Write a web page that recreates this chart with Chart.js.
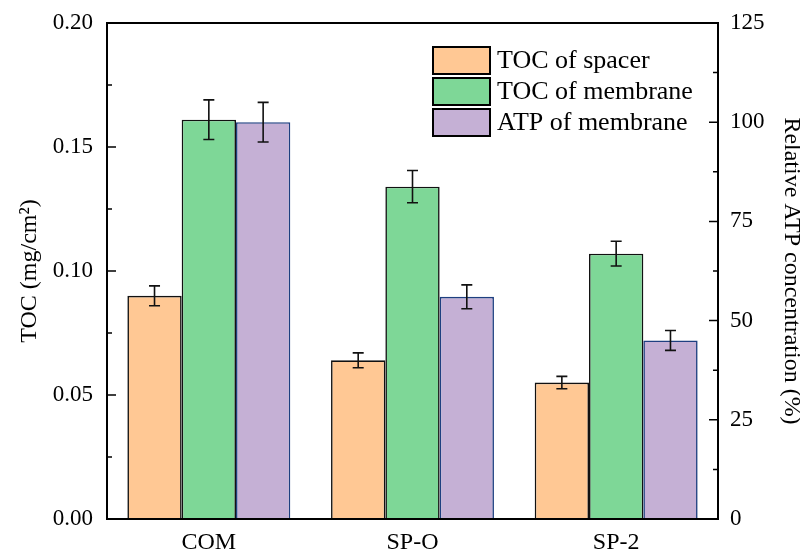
<!DOCTYPE html>
<html lang="en">
<head>
    <meta charset="UTF-8">
    <title>TOC and ATP of spacer / membrane</title>
    <script src="https://cdn.jsdelivr.net/npm/chart.js"></script>
    <style>
        body {
            margin: 0;
            background: #ffffff;
        }
    </style>
</head>
<body>
    <canvas id="tocChart" width="800" height="552"></canvas>

    <script>
        // Data
        const categories = ['COM', 'SP-O', 'SP-2'];
        const tocSpacer = [0.090, 0.064, 0.055];
        const tocSpacerErr = [0.004, 0.003, 0.0025];
        const tocMembrane = [0.161, 0.134, 0.107];
        const tocMembraneErr = [0.008, 0.0065, 0.005];
        const atpMembrane = [100, 56, 45];
        const atpMembraneErr = [5, 3, 2.5];

        const tocTicks = [0, 0.05, 0.10, 0.15, 0.20];
        const atpTicks = [0, 25, 50, 75, 100, 125];

        const serif = "'Liberation Serif', 'Times New Roman', serif";

        // Error bars on top of each bar
        const errorBars = {
            id: 'errorBars',
            afterDatasetsDraw(chart) {
                const ctx = chart.ctx;
                ctx.save();
                ctx.strokeStyle = '#111';
                ctx.lineWidth = 1.6;
                chart.data.datasets.forEach((ds, i) => {
                    const meta = chart.getDatasetMeta(i);
                    const yScale = chart.scales[meta.yAxisID];
                    meta.data.forEach((bar, j) => {
                        const v = ds.data[j];
                        const e = ds.errors[j];
                        const yTop = yScale.getPixelForValue(v + e);
                        const yBot = yScale.getPixelForValue(v - e);
                        const x = bar.x;
                        ctx.beginPath();
                        ctx.moveTo(x, yTop); ctx.lineTo(x, yBot);
                        ctx.moveTo(x - 5.5, yTop); ctx.lineTo(x + 5.5, yTop);
                        ctx.moveTo(x - 5.5, yBot); ctx.lineTo(x + 5.5, yBot);
                        ctx.stroke();
                    });
                });
                ctx.restore();
            }
        };

        // Frame, inward ticks and the legend box
        const frameAndLegend = {
            id: 'frameAndLegend',
            afterDraw(chart) {
                const ctx = chart.ctx;
                const a = chart.chartArea;
                const yL = chart.scales.y;
                const yR = chart.scales.y1;
                ctx.save();
                ctx.strokeStyle = '#000';
                ctx.lineWidth = 2;
                ctx.strokeRect(a.left, a.top, a.right - a.left, a.bottom - a.top);

                ctx.lineWidth = 1.5;
                ctx.beginPath();
                tocTicks.forEach((t, k) => {
                    const py = yL.getPixelForValue(t);
                    ctx.moveTo(a.left, py); ctx.lineTo(a.left + 9, py);
                    if (k < tocTicks.length - 1) {
                        const my = yL.getPixelForValue((t + tocTicks[k + 1]) / 2);
                        ctx.moveTo(a.left, my); ctx.lineTo(a.left + 5, my);
                    }
                });
                atpTicks.forEach((t, k) => {
                    const py = yR.getPixelForValue(t);
                    ctx.moveTo(a.right, py); ctx.lineTo(a.right - 9, py);
                    if (k < atpTicks.length - 1) {
                        const my = yR.getPixelForValue((t + atpTicks[k + 1]) / 2);
                        ctx.moveTo(a.right, my); ctx.lineTo(a.right - 5, my);
                    }
                });
                ctx.stroke();

                // legend
                const bx = 433, by = 47, bw = 57, bh = 27, gap = 31;
                ctx.font = '26px ' + serif;
                ctx.textBaseline = 'middle';
                chart.data.datasets.forEach((ds, i) => {
                    const y = by + i * gap;
                    ctx.fillStyle = ds.backgroundColor;
                    ctx.fillRect(bx, y, bw, bh);
                    ctx.strokeStyle = '#000';
                    ctx.lineWidth = 2;
                    ctx.strokeRect(bx, y, bw, bh);
                    ctx.fillStyle = '#000';
                    ctx.fillText(ds.label, bx + bw + 7, y + bh / 2 + 1);
                });
                ctx.restore();
            }
        };

        new Chart(document.getElementById('tocChart'), {
            type: 'bar',
            data: {
                labels: categories,
                datasets: [
                    {
                        label: 'TOC of spacer',
                        data: tocSpacer,
                        errors: tocSpacerErr,
                        yAxisID: 'y',
                        backgroundColor: '#FFC894',
                        borderColor: '#111',
                        borderWidth: 1.6
                    },
                    {
                        label: 'TOC of membrane',
                        data: tocMembrane,
                        errors: tocMembraneErr,
                        yAxisID: 'y',
                        backgroundColor: '#7ED797',
                        borderColor: '#111',
                        borderWidth: 1.6
                    },
                    {
                        label: 'ATP of membrane',
                        data: atpMembrane,
                        errors: atpMembraneErr,
                        yAxisID: 'y1',
                        backgroundColor: '#C5B0D5',
                        borderColor: '#1E3F80',
                        borderWidth: 1.6
                    }
                ]
            },
            options: {
                responsive: false,
                animation: false,
                layout: { padding: { top: 23, left: 0, right: 0, bottom: 0 } },
                categoryPercentage: 0.8,
                barPercentage: 1.0,
                scales: {
                    x: {
                        grid: { display: false, drawTicks: false },
                        border: { display: false },
                        ticks: {
                            color: '#000',
                            padding: 9,
                            font: { family: serif, size: 24 }
                        },
                        afterFit(scale) {
                            scale.height = 33;
                            scale.paddingLeft = 0;
                            scale.paddingRight = 0;
                        }
                    },
                    y: {
                        position: 'left',
                        min: 0,
                        max: 0.20,
                        grid: { display: false, drawTicks: false },
                        border: { display: false },
                        afterBuildTicks(scale) {
                            scale.ticks = tocTicks.map(v => ({ value: v }));
                        },
                        ticks: {
                            color: '#000',
                            padding: 14,
                            font: { family: serif, size: 23 },
                            callback: v => Number(v).toFixed(2)
                        },
                        title: {
                            display: true,
                            text: 'TOC (mg/cm²)',
                            color: '#000',
                            padding: { top: 21, bottom: 0 },
                            font: { family: serif, size: 24, lineHeight: 0.75 }
                        },
                        afterFit(scale) {
                            scale.width = 107;
                            scale.paddingTop = 0;
                            scale.paddingBottom = 0;
                        }
                    },
                    y1: {
                        position: 'right',
                        min: 0,
                        max: 125,
                        grid: { display: false, drawTicks: false },
                        border: { display: false },
                        afterBuildTicks(scale) {
                            scale.ticks = atpTicks.map(v => ({ value: v }));
                        },
                        ticks: {
                            color: '#000',
                            padding: 12,
                            font: { family: serif, size: 23 }
                        },
                        title: {
                            display: true,
                            text: 'Relative ATP concentration (%)',
                            color: '#000',
                            padding: { top: 0, bottom: 0 },
                            font: { family: serif, size: 24, lineHeight: 0.75 }
                        },
                        afterFit(scale) {
                            scale.width = 82;
                            scale.paddingTop = 0;
                            scale.paddingBottom = 0;
                        }
                    }
                },
                plugins: {
                    legend: { display: false },
                    tooltip: { enabled: false }
                }
            },
            plugins: [errorBars, frameAndLegend]
        });
    </script>
</body>
</html>
